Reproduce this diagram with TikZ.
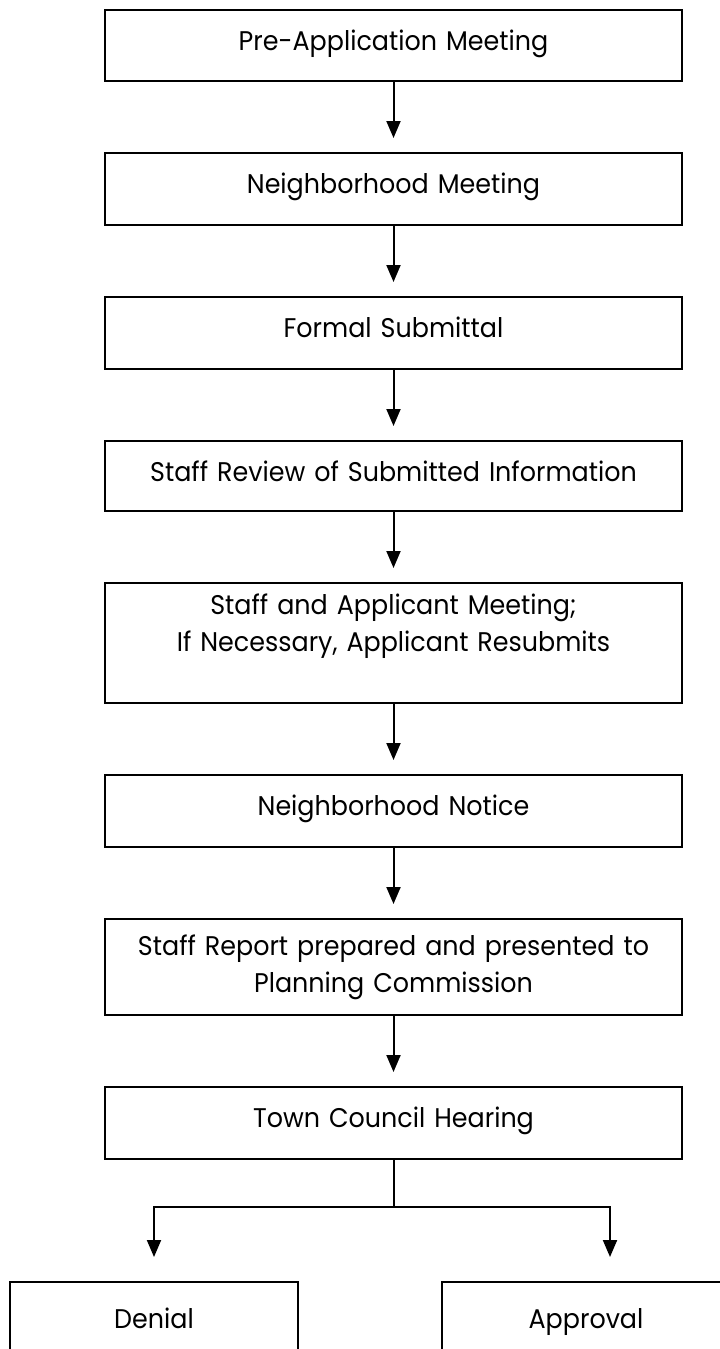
\documentclass[tikz,border=0pt]{standalone}
\usepackage{fontspec}
\setmainfont{Poppins}[FakeStretch=0.94]
\usetikzlibrary{positioning, arrows.meta}

\begin{document}
\begin{tikzpicture}[
    stage/.style 2 args={draw=black, line width=2.6pt, inner sep=0pt, outer sep=0pt,
      text width=577pt, align=center, text height=#1, text depth=#2},
    result/.style={draw=black, line width=2.6pt, inner sep=0pt, outer sep=0pt,
      text width=288pt, align=center, text height=46pt, text depth=100pt},
    flow/.style={line width=2pt, -{Triangle[length=17pt,width=14pt]}},
    font=\fontsize{27pt}{37pt}\selectfont,
    node distance=72pt
  ]
  \useasboundingbox (0,0) rectangle (720pt,-1349pt);
  \clip (0,0) rectangle (720pt,-1349pt);

  % main sequence
  \node[stage={40pt}{31pt}, anchor=north] (preapp) at (393.5pt,-10pt) {Pre-Application Meeting};
  \node[stage={40pt}{32pt}, below=of preapp] (neighmeet) {Neighborhood Meeting};
  \node[stage={40pt}{32pt}, below=of neighmeet] (submittal) {Formal Submittal};
  \node[stage={40pt}{30pt}, below=of submittal] (review) {Staff Review of Submitted Information};
  \node[stage={31pt}{89pt}, below=of review] (resubmit) {Staff and Applicant Meeting;\\If Necessary, Applicant Resubmits};
  \node[stage={40pt}{32pt}, below=of resubmit] (notice) {Neighborhood Notice};
  \node[stage={36pt}{60pt}, below=of notice] (report) {Staff Report prepared and presented to\\Planning Commission};
  \node[stage={40pt}{32pt}, below=of report] (hearing) {Town Council Hearing};

  % outcomes
  \node[result, anchor=north] (denial) at (154pt,-1282pt) {Denial};
  \node[result, anchor=north] (approval) at (586pt,-1282pt) {Approval};

  \foreach \a/\b in {preapp/neighmeet, neighmeet/submittal, submittal/review, review/resubmit,
      resubmit/notice, notice/report, report/hearing}
    \draw[flow] (\a.south) -- ([yshift=15pt]\b.north);

  \coordinate[below=48pt of hearing] (split);
  \draw[line width=2pt] (hearing.south) -- (split);
  \draw[flow] (split) -| ([yshift=25pt]denial.north);
  \draw[flow] (split) -| ([xshift=24pt, yshift=25pt]approval.north);
\end{tikzpicture}
\end{document}
